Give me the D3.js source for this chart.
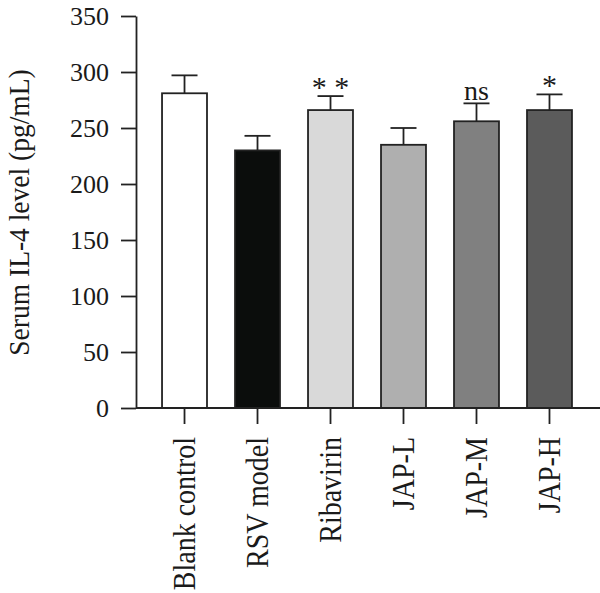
<!DOCTYPE html>
<html>
<head>
<meta charset="utf-8">
<script src="https://cdn.jsdelivr.net/npm/d3@7"></script>
<style>
  body { margin: 0; background: #fff; }
  text { font-family: "Liberation Serif", "Times New Roman", serif; fill: #1a1a1a; }
</style>
</head>
<body>
<svg width="600" height="593"></svg>
<script>
const groups = ['Blank control', 'RSV model', 'Ribavirin', 'JAP-L', 'JAP-M', 'JAP-H'];
const means = [281, 230, 266, 235, 256, 266];
const errors = [16, 13, 12.5, 15, 16, 14];
const marks = ['', '', '* *', '', 'ns', '*'];
const fills = ['#ffffff', '#0b0d0c', '#d9d9d9', '#afafaf', '#808080', '#5b5b5b'];
const yTicks = [0, 50, 100, 150, 200, 250, 300, 350];

const svg = d3.select('svg');
const axisX = 136, plotBottom = 408, plotTop = 16;

const x = d3.scaleBand().domain(groups).range([134, 600]).paddingInner(0.384).paddingOuter(0.384);
const y = d3.scaleLinear().domain([0, 350]).range([plotBottom, plotTop]);

// the original font is narrower than Times: measure at one size, draw taller, squeeze to that length
function condense(sel, measureSize, drawSize) {
    sel.each(function () {
        const t = d3.select(this).style('font-size', measureSize);
        const w = this.getComputedTextLength();
        t.style('font-size', drawSize).attr('textLength', w).attr('lengthAdjust', 'spacingAndGlyphs');
    });
}

// bars
svg.selectAll('.bar').data(groups)
    .enter().append('rect')
    .attr('class', 'bar')
    .attr('x', d => x(d))
    .attr('y', (d, i) => y(means[i]))
    .attr('width', x.bandwidth())
    .attr('height', (d, i) => plotBottom - y(means[i]))
    .attr('fill', (d, i) => fills[i])
    .attr('stroke', '#222')
    .attr('stroke-width', 1.8);

// error bars (upper only)
const eb = svg.selectAll('.err').data(groups).enter().append('g').attr('class', 'err')
    .attr('stroke', '#222').attr('stroke-width', 1.8);
eb.append('line')
    .attr('x1', d => x(d) + x.bandwidth() / 2).attr('x2', d => x(d) + x.bandwidth() / 2)
    .attr('y1', (d, i) => y(means[i])).attr('y2', (d, i) => y(means[i] + errors[i]));
eb.append('line')
    .attr('x1', d => x(d) + x.bandwidth() / 2 - 13).attr('x2', d => x(d) + x.bandwidth() / 2 + 13)
    .attr('y1', (d, i) => y(means[i] + errors[i])).attr('y2', (d, i) => y(means[i] + errors[i]));

// significance marks
svg.selectAll('.sig').data(groups)
    .enter().append('text')
    .attr('class', 'sig')
    .attr('x', d => x(d) + x.bandwidth() / 2)
    .attr('y', (d, i) => y(means[i] + errors[i]) + (marks[i] === 'ns' ? -3 : 1))
    .attr('text-anchor', 'middle')
    .style('font-size', (d, i) => marks[i] === 'ns' ? '28px' : '30px')
    .text((d, i) => marks[i]);

// y axis
const yAxis = svg.append('g')
    .attr('transform', `translate(${axisX},0)`)
    .call(d3.axisLeft(y).tickValues(yTicks).tickSize(15).tickSizeOuter(0).tickPadding(12));
yAxis.selectAll('text').style('font-size', '26px').attr('fill', '#1a1a1a');

// x axis
const xAxis = svg.append('g')
    .attr('transform', `translate(0,${plotBottom})`)
    .call(d3.axisBottom(x).tickSize(16).tickSizeOuter(0).tickPadding(12));
xAxis.select('.domain').attr('d', `M${axisX},0H600`);
xAxis.selectAll('text')
    .attr('fill', '#1a1a1a')
    .attr('text-anchor', 'end')
    .attr('transform', 'rotate(-90)')
    .attr('x', -29)
    .attr('y', 0)
    .attr('dy', '0.33em')
    .call(condense, '28px', '31px');

svg.selectAll('.domain, .tick line').attr('stroke', '#222').attr('stroke-width', 1.8);

// y title
svg.append('text')
    .attr('transform', `translate(29,${(65 + 360) / 2}) rotate(-90)`)
    .attr('text-anchor', 'middle')
    .text('Serum IL-4 level (pg/mL)')
    .call(condense, '27.5px', '30px');
</script>
</body>
</html>
